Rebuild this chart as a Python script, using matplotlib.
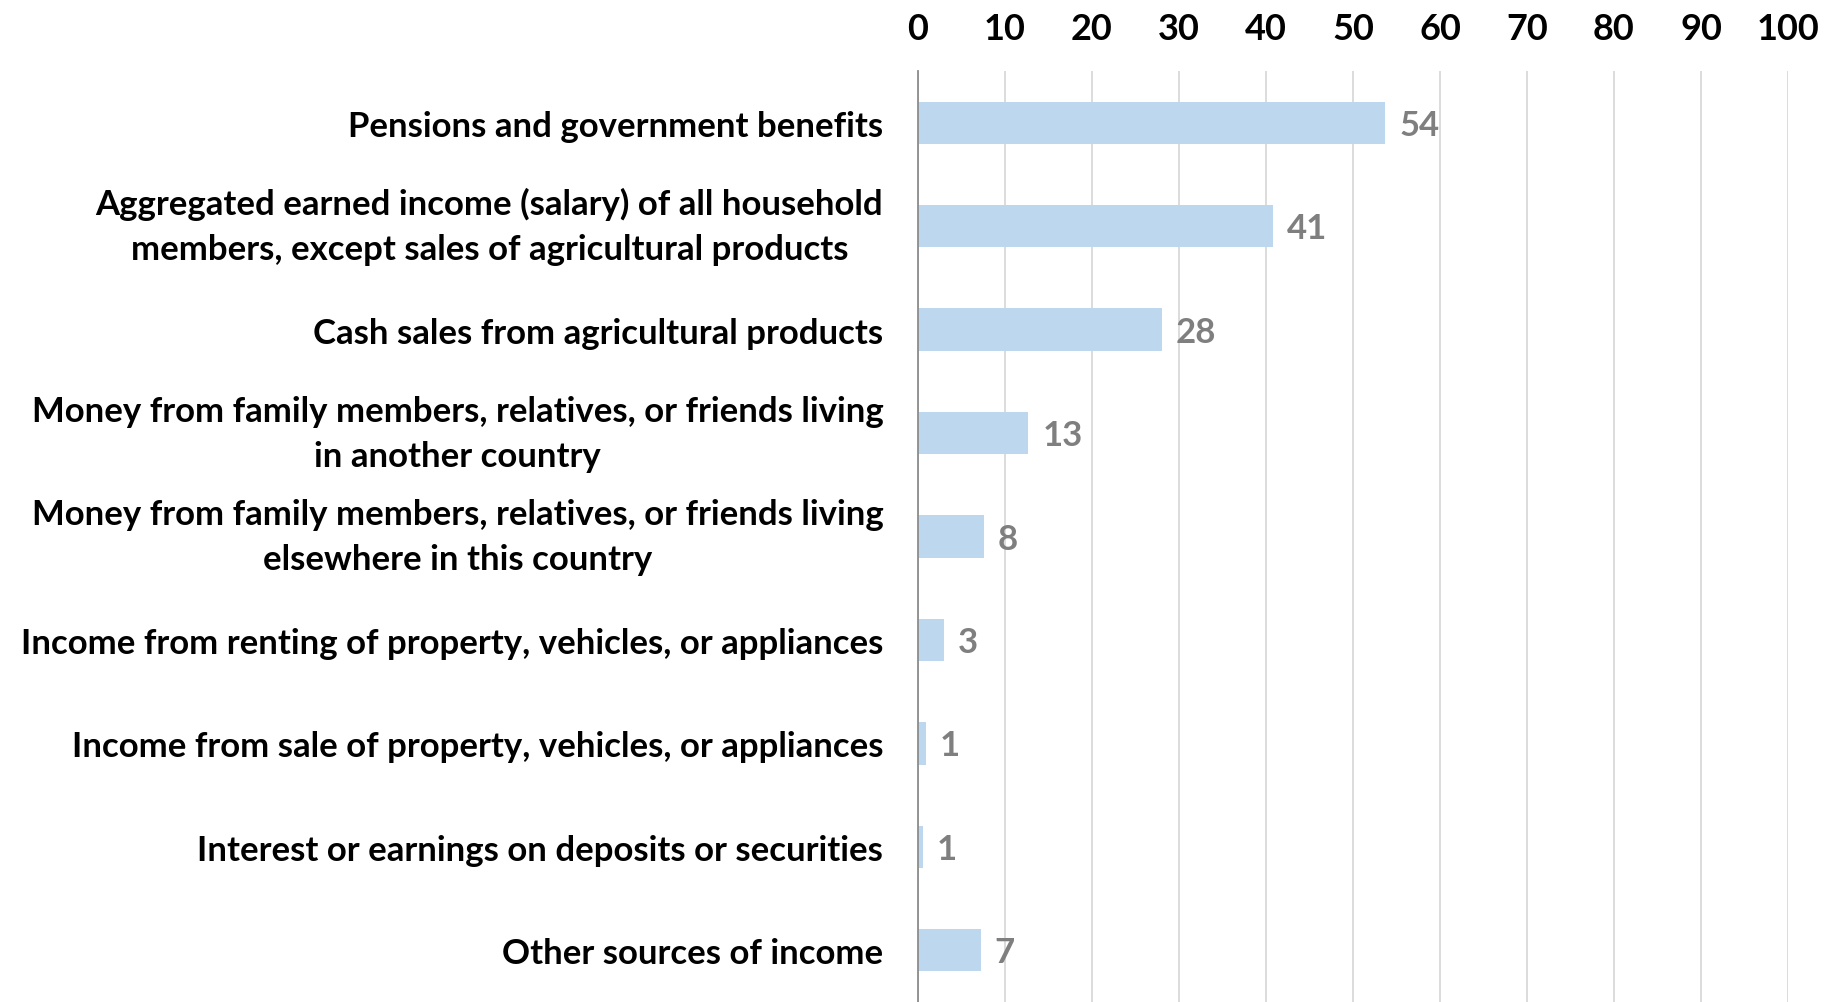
import matplotlib.pyplot as plt
import numpy as np

categories = [
    "Pensions and government benefits",
    "Aggregated earned income (salary) of all household\nmembers, except sales of agricultural products",
    "Cash sales from agricultural products",
    "Money from family members, relatives, or friends living\nin another country",
    "Money from family members, relatives, or friends living\nelsewhere in this country",
    "Income from renting of property, vehicles, or appliances",
    "Income from sale of property, vehicles, or appliances",
    "Interest or earnings on deposits or securities",
    "Other sources of income",
]
values = [53.7, 40.8, 28.0, 12.7, 7.6, 3.0, 0.9, 0.6, 7.2]
labels = ["54", "41", "28", "13", "8", "3", "1", "1", "7"]

plt.rcParams['font.family'] = ['Lato', 'DejaVu Sans']

fig = plt.figure(figsize=(18.33, 10.03), dpi=100)
ax = fig.add_axes([918/1833, 0, 870/1833, 931/1003])

y = np.arange(len(categories))
ax.barh(y, values, height=0.41, color='#bdd7ee', zorder=2)

for yi, v, t in zip(y, values, labels):
    ax.text(v + 1.6, yi + 0.02, t, va='center', ha='left', fontsize=25,
            fontweight='bold', color='#7f7f7f')

ax.set_xlim(0, 100)
ax.set_ylim(len(categories) - 0.5, -0.5)
ax.set_xticks(range(0, 101, 10))
ax.xaxis.tick_top()
ax.tick_params(axis='x', length=0, pad=19, labelsize=26)
for lbl in ax.get_xticklabels():
    lbl.set_fontweight('bold')
ax.set_yticks(y)
ax.set_yticklabels(categories, fontsize=25, fontweight='bold', multialignment='center', linespacing=1.5)
ax.tick_params(axis='y', length=0, pad=25)
for lbl in ax.get_yticklabels():
    if '\n' in lbl.get_text():
        lbl.set_va('center')

ax.grid(axis='x', color='#d9d9d9', linewidth=1.3, zorder=0)
for s in ['top', 'right', 'bottom']:
    ax.spines[s].set_visible(False)
ax.spines['left'].set_color('#8c8c8c')
ax.spines['left'].set_linewidth(1.3)
ax.spines['left'].set_zorder(3)

fig.savefig('out.png', dpi=100)
